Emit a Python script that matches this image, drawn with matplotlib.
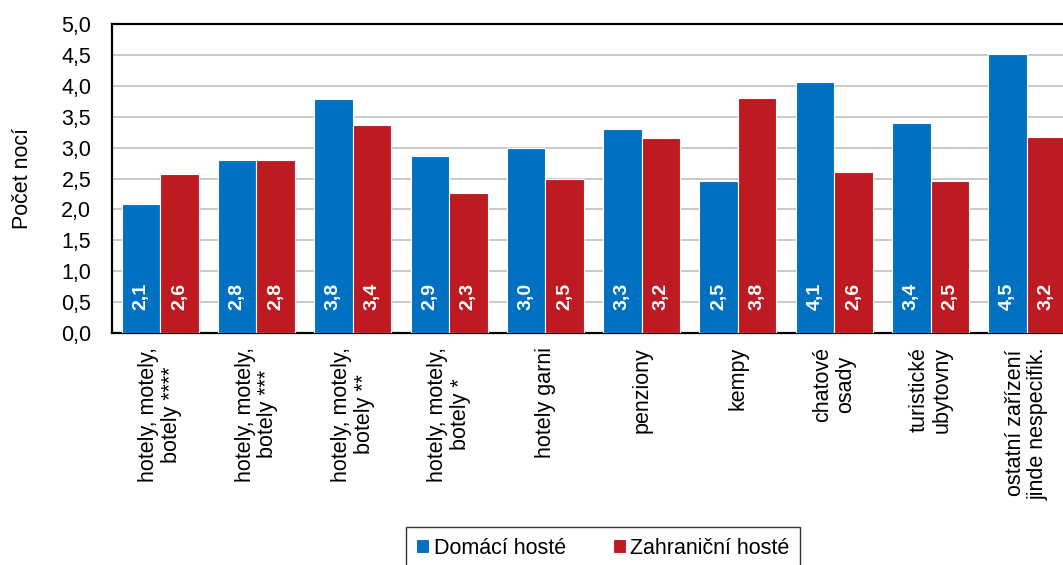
import matplotlib
matplotlib.use("Agg")
import matplotlib.pyplot as plt
import numpy as np

plt.rcParams["font.family"] = ["Liberation Sans", "DejaVu Sans"]

# data
categories = [
    "hotely, motely,\nbotely ****",
    "hotely, motely,\nbotely ***",
    "hotely, motely,\nbotely **",
    "hotely, motely,\nbotely *",
    "hotely garni",
    "penziony",
    "kempy",
    "chatové\nosady",
    "turistické\nubytovny",
    "ostatní zařízení\njinde nespecifik.",
]
domaci = [2.08, 2.80, 3.79, 2.87, 3.00, 3.30, 2.46, 4.06, 3.39, 4.51]
zahranicni = [2.58, 2.80, 3.37, 2.26, 2.50, 3.16, 3.81, 2.61, 2.46, 3.17]
yticks = [0.0, 0.5, 1.0, 1.5, 2.0, 2.5, 3.0, 3.5, 4.0, 4.5, 5.0]

BLUE = "#0070c0"
RED = "#be1a22"
GRID = "#c0c0c0"
FS = 15.5

fig = plt.figure(figsize=(10.63, 5.65), dpi=100)
ax = fig.add_axes([112 / 1063, 1 - 333 / 565, 963 / 1063, 309 / 565])

x = np.arange(len(categories))
w = 0.4
b1 = ax.bar(x - w / 2, domaci, w, color=BLUE, edgecolor="white", linewidth=0.8,
            label="Domácí hosté", zorder=3)
b2 = ax.bar(x + w / 2, zahranicni, w, color=RED, edgecolor="white", linewidth=0.8,
            label="Zahraniční hosté", zorder=3)

for bars, vals in ((b1, domaci), (b2, zahranicni)):
    for r, v in zip(bars, vals):
        ax.text(r.get_x() + r.get_width() / 2, 0.37, f"{v:.1f}".replace(".", ","),
                rotation=90, ha="center", va="bottom", color="white",
                fontsize=14, fontweight="bold", zorder=4)

ax.set_xlim(-0.5, len(categories) - 0.5)
ax.set_ylim(0, 5)
ax.set_yticks(yticks)
ax.set_yticklabels([f"{t:.1f}".replace(".", ",") for t in yticks], fontsize=FS)
ax.yaxis.grid(True, color=GRID, linewidth=1.2, zorder=0)
ax.set_axisbelow(True)
ax.tick_params(axis="y", length=0, pad=15)
ax.tick_params(axis="x", length=0, pad=10)
ax.set_xticks(x)
ax.set_xticklabels(categories, rotation=90, fontsize=FS, ha="center", va="top",
                   multialignment="center", linespacing=1.1)
for s in ax.spines.values():
    s.set_color("black")
    s.set_linewidth(1.6)

ax.set_ylabel("Počet nocí", fontsize=FS)
ax.yaxis.set_label_coords(-0.082, 0.5)

fig.legend(loc="center", bbox_to_anchor=(603 / 1063, 1 - 548 / 565), ncol=2,
           fontsize=FS, frameon=True, fancybox=False, edgecolor="black",
           handlelength=0.6, handleheight=0.6, handletextpad=0.2,
           columnspacing=2.2, borderpad=0.5, borderaxespad=0)

fig.savefig("out.png", dpi=100)
